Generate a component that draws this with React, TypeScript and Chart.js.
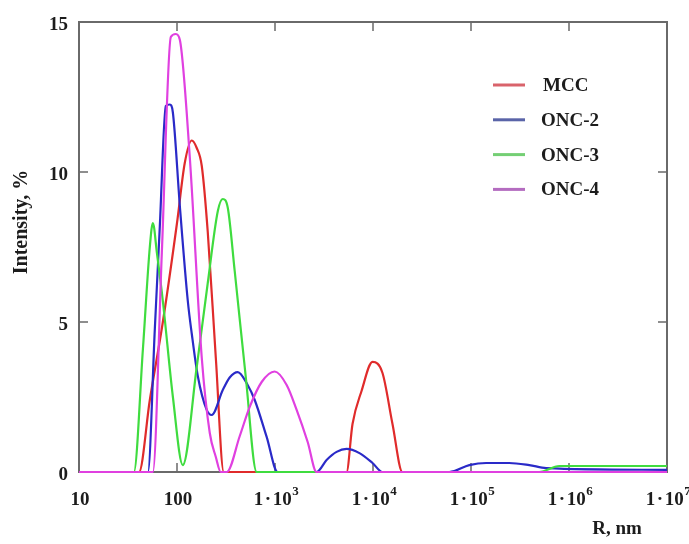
import React, { useEffect, useRef } from "react";
import { Chart, registerables } from "chart.js";

Chart.register(...registerables);

// ---- data ----
const seriesNames = ["MCC", "ONC-2", "ONC-3", "ONC-4"];
const seriesColors = ["#e02b2b", "#2a2ac8", "#3fdc3f", "#e040e0"];
const legendColors = ["#d9636b", "#5a64a8", "#74cf74", "#b46cc0"];

const mccR = [10, 41, 52.8, 71.7, 100, 120, 141.6, 159, 179, 206, 249, 300, 5370, 6180, 7640, 9890, 12500, 15810, 19950, 1e7];
const mccI = [0, 0, 2.4, 5.0, 8.3, 10.3, 11.05, 10.8, 10.2, 8.0, 3.8, 0, 0, 1.6, 2.7, 3.67, 3.3, 1.6, 0, 0];

const onc2R = [10, 50.5, 59.4, 66.8, 76.9, 84.5, 90.6, 107, 128.9, 141.6, 163, 201, 226, 293, 345, 417, 526, 621, 822, 1064, 2656, 3360, 4250, 5370, 7280, 9890, 12500, 60100, 96100, 143000, 245000, 393000, 585000, 1e7];
const onc2I = [0, 0, 4.77, 8.2, 12.2, 12.25, 12.0, 8.85, 5.7, 4.6, 3.2, 2.07, 1.9, 2.73, 3.15, 3.33, 2.9, 2.4, 1.17, 0, 0, 0.4, 0.67, 0.77, 0.63, 0.3, 0, 0, 0.23, 0.3, 0.3, 0.23, 0.13, 0.07];

const onc3R = [10, 36.3, 44.9, 52.8, 56.7, 62.4, 71.7, 90.8, 114.6, 159, 206, 261, 293, 330, 388, 502, 650, 497000, 795000, 1e7];
const onc3I = [0, 0, 4.1, 7.5, 8.3, 7.3, 5.7, 2.5, 0.23, 3.5, 6.3, 8.7, 9.1, 8.8, 6.7, 3.2, 0, 0, 0.2, 0.2];

const onc4R = [10, 56.7, 70, 86.5, 97.3, 107, 135, 179, 216, 249, 279, 322, 437, 552, 731, 993, 1315, 1663, 2155, 2656, 1e7];
const onc4I = [0, 0, 7.3, 14.5, 14.6, 14.4, 10.5, 3.8, 1.3, 0.5, 0, 0, 1.2, 2.17, 3.0, 3.35, 2.9, 2.07, 1.0, 0, 0];

const xTickValues = [10, 100, 1e3, 1e4, 1e5, 1e6, 1e7];
const yTickValues = [0, 5, 10, 15];
const xTitle = "R, nm";
const yTitle = "Intensity, %";

const allR = [mccR, onc2R, onc3R, onc4R];
const allI = [mccI, onc2I, onc3I, onc4I];

const FONT = '"Liberation Serif", "Times New Roman", serif';
const TEXT = "#1c1c1c";
const FRAME = "#6a6a6a";

const deco = {
  id: "deco",
  beforeDatasetsDraw(chart: any) {
    const { ctx, chartArea: a, scales } = chart;
    const xs = scales.x;
    const ys = scales.y;
    ctx.save();
    ctx.strokeStyle = FRAME;
    ctx.lineWidth = 2;
    ctx.strokeRect(a.left, a.top, a.right - a.left, a.bottom - a.top);
    ctx.lineWidth = 1.5;
    const T = 9;
    ctx.beginPath();
    xTickValues.slice(1, -1).forEach((v) => {
      const px = xs.getPixelForValue(v);
      ctx.moveTo(px, a.top);
      ctx.lineTo(px, a.top + T);
      ctx.moveTo(px, a.bottom);
      ctx.lineTo(px, a.bottom - T);
    });
    yTickValues.slice(1, -1).forEach((v) => {
      const py = ys.getPixelForValue(v);
      ctx.moveTo(a.left, py);
      ctx.lineTo(a.left + T, py);
      ctx.moveTo(a.right, py);
      ctx.lineTo(a.right - T, py);
    });
    ctx.stroke();
    ctx.restore();
  },
  afterDraw(chart: any) {
    const { ctx, chartArea: a, scales } = chart;
    const xs = scales.x;
    const ys = scales.y;
    ctx.save();
    ctx.fillStyle = TEXT;
    ctx.font = `bold 19px ${FONT}`;
    // y labels
    ctx.textAlign = "right";
    ctx.textBaseline = "middle";
    yTickValues.forEach((v) => {
      ctx.fillText(String(v), a.left - 11, ys.getPixelForValue(v) + 3);
    });
    // x labels
    ctx.textBaseline = "middle";
    const ly = a.bottom + 28;
    xTickValues.forEach((v) => {
      const px = xs.getPixelForValue(v) + 1;
      const e = Math.round(Math.log10(v));
      if (e <= 2) {
        ctx.textAlign = "center";
        ctx.font = `bold 19px ${FONT}`;
        ctx.fillText(String(v), px, ly);
      } else {
        ctx.font = `bold 19px ${FONT}`;
        const base = "1\u200A\u00B7\u200A10";
        const bw = ctx.measureText(base).width;
        ctx.font = `bold 13px ${FONT}`;
        const ew = ctx.measureText(String(e)).width;
        const left = px - (bw + ew) / 2;
        ctx.textAlign = "left";
        ctx.font = `bold 19px ${FONT}`;
        ctx.fillText(base, left, ly);
        ctx.font = `bold 13px ${FONT}`;
        ctx.fillText(String(e), left + bw + 0.5, ly - 8);
      }
    });
    // axis titles
    ctx.font = `bold 19px ${FONT}`;
    ctx.textAlign = "center";
    ctx.fillText(xTitle, 617, a.bottom + 57);
    ctx.save();
    ctx.translate(22, 222);
    ctx.rotate(-Math.PI / 2);
    ctx.font = `bold 20px ${FONT}`;
    ctx.fillText(yTitle, 0, 0);
    ctx.restore();
    // legend
    const lx0 = 493, lx1 = 525, tx = 541;
    const ly0 = 85, step = 34.8;
    seriesNames.forEach((name, i) => {
      const yy = ly0 + i * step;
      ctx.strokeStyle = legendColors[i];
      ctx.lineWidth = 3;
      ctx.beginPath();
      ctx.moveTo(lx0, yy);
      ctx.lineTo(lx1, yy);
      ctx.stroke();
      ctx.fillStyle = TEXT;
      ctx.textAlign = "left";
      ctx.textBaseline = "middle";
      ctx.font = `bold 19px ${FONT}`;
      ctx.fillText(name, tx + (i === 0 ? 2 : 0), yy + 1);
    });
    ctx.restore();
  },
};

export default function App() {
  const ref = useRef<HTMLCanvasElement>(null);
  useEffect(() => {
    if (!ref.current) return;
    const datasets = seriesNames.map((name, i) => ({
      label: name,
      data: allR[i].map((r, j) => ({ x: r, y: allI[i][j] })),
      borderColor: seriesColors[i],
      backgroundColor: seriesColors[i],
      borderWidth: 2.2,
      pointRadius: 0,
      cubicInterpolationMode: "monotone" as const,
      clip: false as any,
      fill: false,
      order: seriesNames.length - 1 - i,
    }));
    const chart = new Chart(ref.current, {
      type: "line",
      data: { datasets },
      options: {
        animation: false,
        responsive: false,
        devicePixelRatio: 1,
        layout: { padding: { left: 79, right: 22, top: 22, bottom: 72 } },
        plugins: { legend: { display: false }, tooltip: { enabled: false } },
        scales: {
          x: { type: "logarithmic", min: 10, max: 1e7, display: false },
          y: { type: "linear", min: 0, max: 15, display: false },
        },
      },
      plugins: [deco],
    });
    return () => chart.destroy();
  }, []);
  return (
    <div style={{ position: "absolute", left: 0, top: 0, width: 689, height: 544, background: "#fff" }}>
      <canvas ref={ref} width={689} height={544} style={{ display: "block" }} />
    </div>
  );
}
